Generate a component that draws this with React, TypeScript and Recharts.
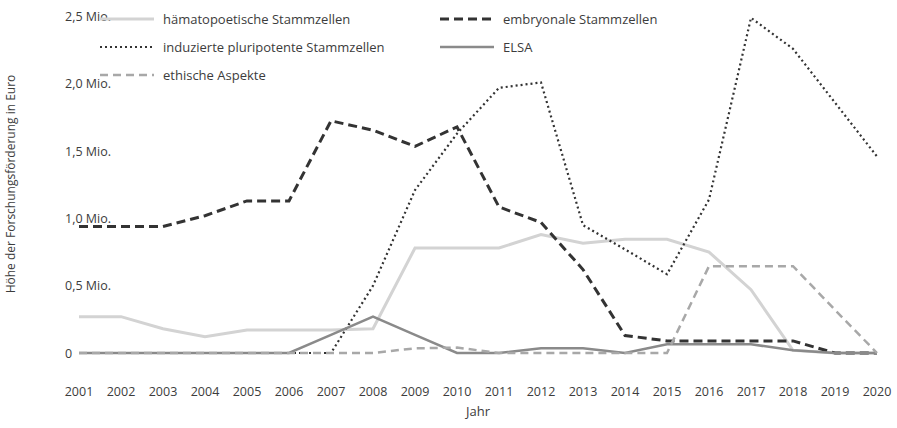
import { LineChart, Line, XAxis, YAxis } from "recharts";

const years = ["2001", "2002", "2003", "2004", "2005", "2006", "2007", "2008", "2009", "2010", "2011", "2012", "2013", "2014", "2015", "2016", "2017", "2018", "2019", "2020"];

// values in Mio. Euro
const haematopoetic = [0.27, 0.27, 0.18, 0.12, 0.17, 0.17, 0.17, 0.18, 0.78, 0.78, 0.78, 0.88, 0.815, 0.845, 0.845, 0.75, 0.47, 0.02, 0, 0];
const embryonic = [0.94, 0.94, 0.94, 1.02, 1.13, 1.13, 1.725, 1.655, 1.535, 1.68, 1.085, 0.97, 0.62, 0.13, 0.09, 0.09, 0.09, 0.09, 0, 0];
const ips = [0, 0, 0, 0, 0, 0, 0, 0.5, 1.21, 1.63, 1.97, 2.01, 0.95, 0.77, 0.585, 1.14, 2.49, 2.26, 1.86, 1.46];
const elsa = [0, 0, 0, 0, 0, 0, 0.135, 0.27, 0.135, 0, 0, 0.035, 0.035, 0, 0.065, 0.065, 0.065, 0.02, 0, 0];
const ethics = [0, 0, 0, 0, 0, 0, 0, 0, 0.035, 0.04, 0, 0, 0, 0, 0, 0.645, 0.645, 0.645, 0.32, 0];

const yTicks = [0, 0.5, 1, 1.5, 2, 2.5];
const yTickLabels = ["0", "0,5 Mio.", "1,0 Mio.", "1,5 Mio.", "2,0 Mio.", "2,5 Mio."];

const data = years.map((year, i) => ({
  year,
  hsc: haematopoetic[i],
  esc: embryonic[i],
  ips: ips[i],
  elsa: elsa[i],
  ethics: ethics[i],
}));

const FONT = "'Open Sans', sans-serif";
const TEXT = "#3c3c3c";

const series = [
  { key: "hsc", name: "hämatopoetische Stammzellen", color: "#d3d3d3", width: 3, dash: undefined },
  { key: "esc", name: "embryonale Stammzellen", color: "#333333", width: 3, dash: "9 5" },
  { key: "ips", name: "induzierte pluripotente Stammzellen", color: "#333333", width: 2.2, dash: "2 3" },
  { key: "elsa", name: "ELSA", color: "#8a8a8a", width: 2.5, dash: undefined },
  { key: "ethics", name: "ethische Aspekte", color: "#a8a8a8", width: 2.5, dash: "8 5" },
];

// legend slots: [x of line start, row y]
const legendSlots = [
  [100, 19],
  [440, 19],
  [100, 47],
  [440, 47],
  [100, 75],
];

function ChartLegend() {
  return (
    <svg width={897} height={90} style={{ position: "absolute", left: 0, top: 0, pointerEvents: "none" }}>
      {series.map((s, i) => {
        const [x, y] = legendSlots[i];
        return (
          <g key={s.key}>
            <line x1={x} x2={x + 54} y1={y} y2={y} stroke={s.color} strokeWidth={s.width} strokeDasharray={s.dash} />
            <text x={x + 63} y={y} dominantBaseline="central" fontFamily={FONT} fontSize={13} fill={TEXT}>
              {s.name}
            </text>
          </g>
        );
      })}
    </svg>
  );
}

function YTick({ y, payload }: any) {
  const idx = yTicks.indexOf(payload.value);
  return (
    <text x={65} y={y} dominantBaseline="central" textAnchor="start" fontFamily={FONT} fontSize={12.5} fill={TEXT}>
      {yTickLabels[idx]}
    </text>
  );
}

function XTick({ x, payload }: any) {
  return (
    <text x={x} y={391} dominantBaseline="central" textAnchor="middle" fontFamily={FONT} fontSize={12.5} fill={TEXT}>
      {payload.value}
    </text>
  );
}

export default function App() {
  return (
    <div style={{ position: "absolute", left: 0, top: 0, width: 897, height: 428, background: "#fff" }}>
      <LineChart width={897} height={428} data={data} margin={{ top: 16.5, right: 20, bottom: 0, left: 0 }}>
        <XAxis
          dataKey="year"
          height={75}
          axisLine={false}
          tickLine={false}
          interval={0}
          tick={<XTick />}
          label={() => (
            <text x={478} y={411} dominantBaseline="central" textAnchor="middle" fontFamily={FONT} fontSize={13} fill={TEXT}>
              Jahr
            </text>
          )}
        />
        <YAxis
          width={79}
          domain={[0, 2.5]}
          ticks={yTicks}
          axisLine={false}
          tickLine={false}
          tick={<YTick />}
          label={() => (
            <text
              x={10}
              y={184}
              transform="rotate(-90 10 184)"
              dominantBaseline="central"
              textAnchor="middle"
              fontFamily={FONT}
              fontSize={12}
              fill={TEXT}
            >
              Höhe der Forschungsförderung in Euro
            </text>
          )}
        />
        {series.map((s) => (
          <Line
            key={s.key}
            type="linear"
            dataKey={s.key}
            name={s.name}
            stroke={s.color}
            strokeWidth={s.width}
            strokeDasharray={s.dash}
            dot={false}
            activeDot={false}
            isAnimationActive={false}
          />
        ))}
      </LineChart>
      <ChartLegend />
    </div>
  );
}
